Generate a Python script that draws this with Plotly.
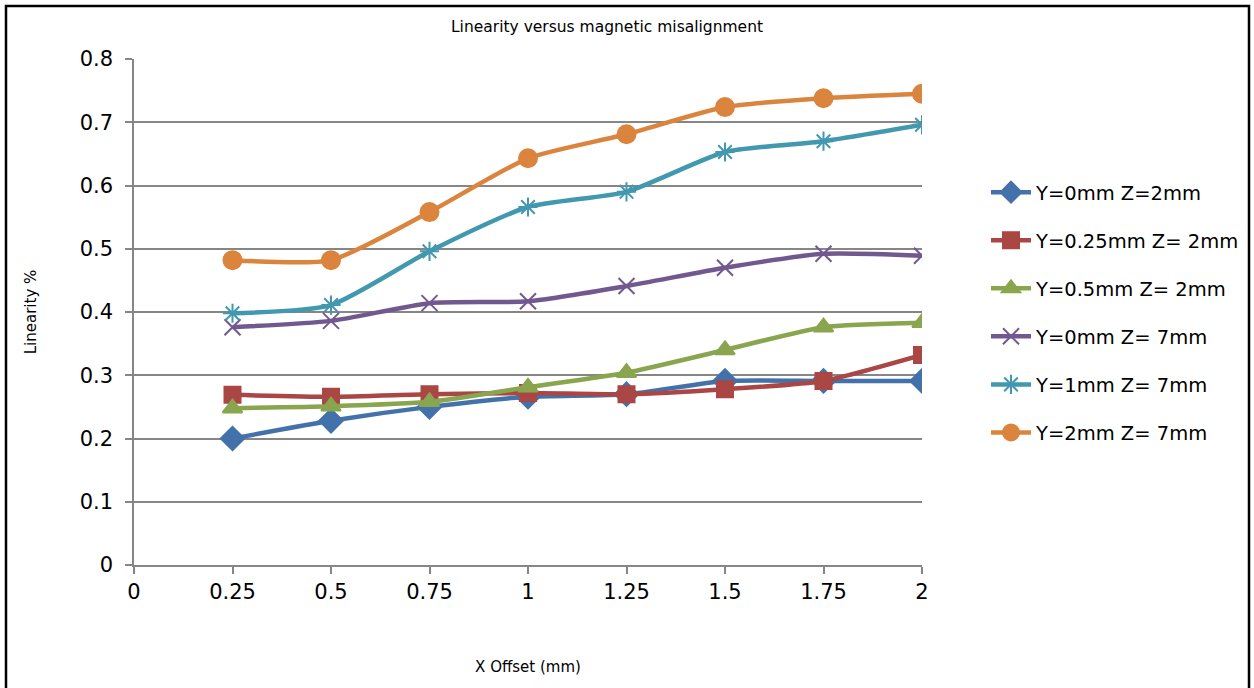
import plotly.graph_objects as go

x_offset = [0.25, 0.5, 0.75, 1.0, 1.25, 1.5, 1.75, 2.0]

y0_z2 = [0.200, 0.228, 0.250, 0.266, 0.270, 0.291, 0.291, 0.291]
y025_z2 = [0.269, 0.266, 0.270, 0.272, 0.270, 0.278, 0.291, 0.332]
y05_z2 = [0.248, 0.251, 0.258, 0.281, 0.304, 0.340, 0.376, 0.383]
y0_z7 = [0.376, 0.386, 0.414, 0.417, 0.441, 0.470, 0.492, 0.489]
y1_z7 = [0.398, 0.411, 0.496, 0.566, 0.590, 0.653, 0.670, 0.696]
y2_z7 = [0.482, 0.482, 0.558, 0.643, 0.681, 0.724, 0.738, 0.745]

names = ["Y=0mm Z=2mm", "Y=0.25mm Z= 2mm", "Y=0.5mm Z= 2mm",
         "Y=0mm Z= 7mm", "Y=1mm Z= 7mm", "Y=2mm Z= 7mm"]
series = [y0_z2, y025_z2, y05_z2, y0_z7, y1_z7, y2_z7]
colors = ["#4372AA", "#AA4643", "#89A54E", "#71588F", "#4198AF", "#DB843D"]
symbols = ["diamond", "square", "triangle-up", "x-thin", "asterisk", "circle"]
sizes = [18, 16, 17, 16, 16, 18]

FONT = "DejaVu Sans"

fig = go.Figure()
for i, (nm, ys) in enumerate(zip(names, series)):
    fig.add_trace(go.Scatter(
        x=x_offset, y=ys, name=nm, mode="lines+markers",
        legendgroup="g%d" % i,
        line=dict(color=colors[i], width=4.5, shape="spline", smoothing=0.6),
        marker=dict(symbol=symbols[i], size=sizes[i], color=colors[i],
                    line=dict(color=colors[i], width=2)),
    ))

W, H = 1254, 688
L, R, T, B = 134, 922, 59, 565
pw, ph = R - L, B - T

def px(v):
    return (v - L) / pw

def py(v):
    return (B - v) / ph

# outer chart frame
fig.add_shape(type="rect", xref="paper", yref="paper",
              x0=px(6), x1=px(1249), y0=py(720), y1=py(6),
              line=dict(color="black", width=2.5), fillcolor="rgba(0,0,0,0)")

fig.update_layout(
    width=W, height=H,
    margin=dict(l=L, r=W - R, t=T, b=H - B, pad=0, autoexpand=False),
    paper_bgcolor="white", plot_bgcolor="white",
    font=dict(family=FONT, color="black"),
    title=dict(text="Linearity versus magnetic misalignment", x=607 / W, xref="container",
               xanchor="center", y=1 - 27 / H, yref="container", yanchor="middle",
               font=dict(size=15.5, family=FONT)),
    legend=dict(x=px(986), y=py(173), xanchor="left", yanchor="top",
                font=dict(size=19.5, family=FONT), traceorder="grouped",
                tracegroupgap=19.7, itemwidth=40, bgcolor="rgba(0,0,0,0)"),
    xaxis=dict(range=[0, 2], dtick=0.25, tick0=0, showgrid=False, zeroline=False,
               showline=True, linecolor="#868686", linewidth=1.5,
               ticks="outside", ticklen=7, tickcolor="#868686", tickwidth=1.5,
               tickfont=dict(size=21, family=FONT),
               title=dict(text="X Offset (mm)", font=dict(size=15, family=FONT), standoff=59)),
    yaxis=dict(range=[0, 0.8], dtick=0.1, tick0=0, showgrid=True, gridcolor="#868686",
               gridwidth=1.5, zeroline=False, showline=True, linecolor="#868686", linewidth=1.5,
               ticks="outside", ticklen=7, tickcolor="#868686", tickwidth=1.5,
               tickfont=dict(size=21, family=FONT), ticklabelstandoff=8,
               title=dict(text="Linearity %", font=dict(size=15, family=FONT), standoff=39)),
    showlegend=True,
)

fig.write_html("out.html", config={"displayModeBar": False},
               post_script="document.body.style.margin='0';")
